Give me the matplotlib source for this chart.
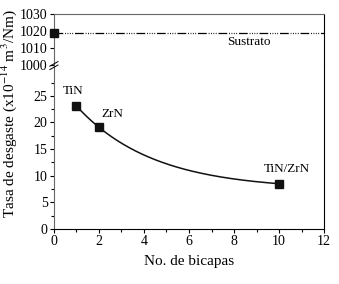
import numpy as np
import matplotlib
matplotlib.use("Agg")
import matplotlib.pyplot as plt

plt.rcParams['font.family'] = ['Liberation Serif', 'DejaVu Serif']
plt.rcParams['mathtext.fontset'] = 'stix'

# data
bicapas = [1, 2, 10]
desgaste = [23.1, 19.1, 8.5]
etiquetas = ["TiN", "ZrN", "TiN/ZrN"]
sustrato_x = [0]
sustrato_y = [1019]

# exponential decay y = C + A*exp(-k x) through the three points
x1, x2, x3 = bicapas
y1, y2, y3 = desgaste
ks = np.linspace(0.01, 2, 20000)
ratio = (np.exp(-ks*x1) - np.exp(-ks*x2)) / (np.exp(-ks*x2) - np.exp(-ks*x3))
k = ks[np.argmin(abs(ratio - (y1 - y2) / (y2 - y3)))]
A = (y1 - y2) / (np.exp(-k*x1) - np.exp(-k*x2))
C = y1 - A*np.exp(-k*x1)
xf = np.linspace(x1, x3, 200)
yf = C + A*np.exp(-k*xf)

fig = plt.figure(figsize=(3.39, 2.84), dpi=100)
ax_top = fig.add_axes([0.159, 0.771, 0.797, 0.1796])
ax = fig.add_axes([0.159, 0.1937, 0.797, 0.5775])

grey = '#666666'
# top part
ax_top.plot([0, 12], [sustrato_y[0]]*2, color='black', lw=0.9,
            dashes=[7, 1.5, 0.7, 1.2, 0.7, 1.2, 0.7, 1.2, 0.7, 1.5])
ax_top.plot(sustrato_x, sustrato_y, 's', color='#111111', ms=6, clip_on=False, zorder=5)
ax_top.text(8.67, 1013.7, "Sustrato", ha='center', va='center', fontsize=9.5)
ax_top.set_xlim(0, 12)
ax_top.set_ylim(1000, 1030)
ax_top.set_yticks([1000, 1010, 1020, 1030])
ax_top.set_xticks([])
ax_top.spines['bottom'].set_visible(False)
ax_top.spines['top'].set_color(grey)
ax_top.spines['left'].set_color(grey)

# bottom part
ax.plot(xf, yf, color='#111111', lw=1.1)
ax.plot(bicapas, desgaste, 's', color='#111111', ms=6, zorder=5)
pos = [(0.84, 25.9), (2.6, 21.6), (10.36, 11.3)]
for (tx, ty), lab in zip(pos, etiquetas):
    ax.text(tx, ty, lab, ha='center', va='center', fontsize=9.5)
ax.set_xlim(0, 12)
ax.set_ylim(0, 30.8)
ax.set_xticks(range(0, 13, 2))
ax.set_xticks(range(1, 12, 2), minor=True)
ax.set_yticks(range(0, 30, 5))
ax.set_yticks(np.arange(2.5, 30, 5), minor=True)
ax.spines['top'].set_visible(False)
ax.spines['left'].set_color(grey)
ax.set_xlabel("No. de bicapas", fontsize=11, labelpad=5)

for a in (ax, ax_top):
    a.tick_params(direction='out', labelsize=10, length=3, width=0.8, pad=1.5)
    a.tick_params(which='minor', direction='out', length=2, width=0.8)

# break mark on left spine
d = 0.012
kw = dict(transform=fig.transFigure, color='black', lw=0.7, clip_on=False)
xb, yb = 0.159, 0.771
fig.add_artist(plt.Line2D([xb - d, xb + d], [yb - 0.004, yb + 0.012], **kw))
fig.add_artist(plt.Line2D([xb - d, xb + d], [yb - 0.016, yb + 0.000], **kw))

fig.text(0.028, 0.60, r"Tasa de desgaste (x10$^{-14}$ m$^3$/Nm)", rotation=90,
         ha='center', va='center', fontsize=11)

fig.savefig("out.png", dpi=100)
